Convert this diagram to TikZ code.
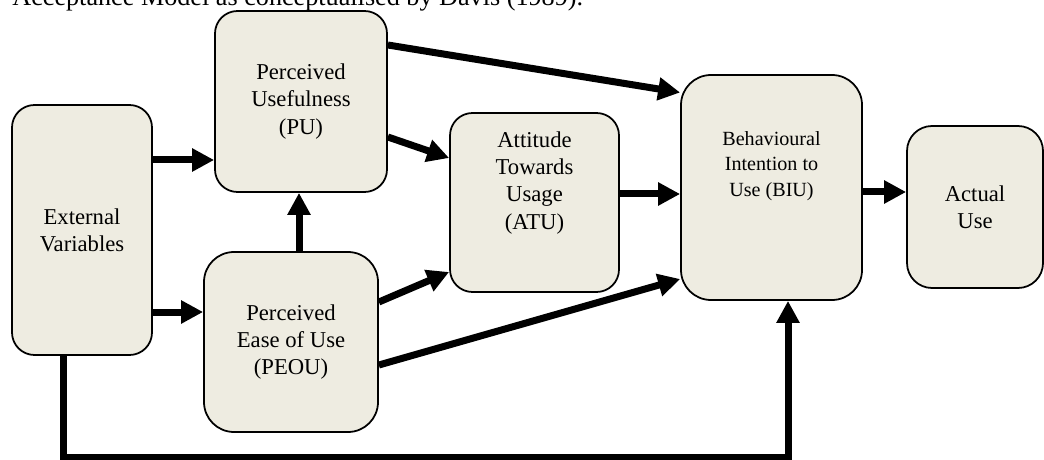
\documentclass[tikz,border=0pt]{standalone}
\usepackage{fontspec}
\setmainfont{Liberation Serif}
\usetikzlibrary{arrows.meta,calc}
\definecolor{boxfill}{HTML}{EEECE1}

\begin{document}
\begin{tikzpicture}[x=0.2cm, y=0.2cm,
  box/.style={draw=black, line width=1pt, fill=boxfill, rounded corners=0.45cm, align=center, inner sep=0pt, font=\fontsize{12.9}{15.4}\selectfont},
  lbl/.style={align=center, inner sep=0pt, font=\fontsize{12.9}{15.4}\selectfont},
  link/.style={line width=0.14cm, line join=miter, -{Triangle[length=0.44cm,width=0.44cm]}}]
\useasboundingbox (0,0) rectangle (104.4,-46);
\node[anchor=base west, inner sep=0pt, font=\fontsize{14.9}{17}\selectfont] (caption) at (1.2,-0.55) {Acceptance Model as conceptualised by Davis (1989).};
\node[box, minimum width=2.8cm, minimum height=5cm] (ev) at (8.2,-23) {External\\Variables};
\node[box, minimum width=3.44cm, minimum height=3.62cm] (pu) at (30.1,-10.15) {Perceived\\Usefulness\\(PU)};
\node[box, rounded corners=0.6cm, minimum width=3.48cm, minimum height=3.6cm] (peou) at (29.1,-34.2) {Perceived\\Ease of Use\\(PEOU)};
\node[box, minimum width=3.38cm, minimum height=3.58cm] (atu) at (53.45,-20.25) {};
\node[lbl] (atutext) at (53.45,-18.3) {Attitude\\Towards\\Usage\\(ATU)};
\node[box, rounded corners=0.6cm, minimum width=3.62cm, minimum height=4.5cm] (biu) at (77.15,-18.75) {};
\node[lbl, font=\fontsize{11.45}{14.4}\selectfont] (biutext) at (77.15,-16.6) {Behavioural\\Intention to\\Use (BIU)};
\node[box, rounded corners=0.5cm, minimum width=2.72cm, minimum height=3.24cm] (au) at (97.5,-20.7) {Actual\\Use};
\coordinate (loop) at (0,-45.7);
\draw[link] ([yshift=1.4cm]ev.east) -- ([yshift=1.4cm]ev.east -| pu.west);
\draw[link] ([yshift=-1.64cm]ev.east) -- ([yshift=-1.64cm]ev.east -| peou.west);
\draw[link] ([xshift=0.16cm]peou.north) -- ([xshift=0.16cm]peou.north |- pu.south);
\draw[link] ([yshift=1.13cm]pu.east) -- ([yshift=1.9cm]biu.west);
\draw[link] ([yshift=-0.71cm]pu.east) -- ([yshift=0.89cm]atu.west);
\draw[link] ([yshift=0.17cm]atu.east) -- ([yshift=0.17cm]atu.east -| biu.west);
\draw[link] ([yshift=0.8cm]peou.east) -- ([yshift=-1.39cm]atu.west);
\draw[link] ([yshift=-0.46cm]peou.east) -- ([yshift=-1.83cm]biu.west);
\draw[link] ([yshift=-0.09cm]biu.east) -- ([yshift=-0.09cm]biu.east -| au.west);
\draw[link] ([xshift=-0.38cm]ev.south) -- ([xshift=-0.38cm]ev.south |- loop) -- ([xshift=0.33cm]biu.south |- loop) -- ([xshift=0.33cm]biu.south);
\end{tikzpicture}
\end{document}
